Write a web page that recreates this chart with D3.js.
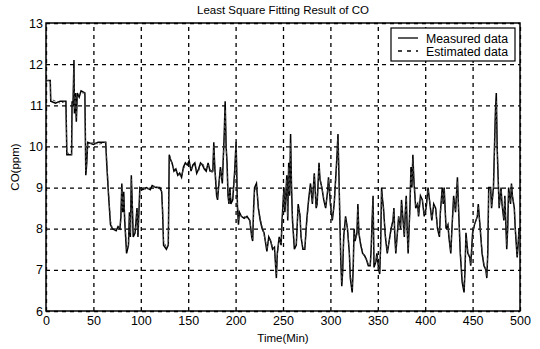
<!DOCTYPE html>
<html>
<head>
<meta charset="utf-8">
<script src="https://cdn.jsdelivr.net/npm/d3@7"></script>
<style>
  body { margin: 0; background: #fff; }
  text { font-family: "Liberation Sans", Arial, sans-serif; fill: #000; }
</style>
</head>
<body>
<div id="container"></div>
<script>
/** CONSTANTS AND GLOBALS */
const width = 540,
  height = 349,
  margin = { top: 23, bottom: 38, left: 46, right: 20 };

/** DATA */
const timeMin = [
  0, 4.5, 5, 10, 15, 21, 22, 27, 27.5, 28.5,
  29.5, 30, 31, 32, 33, 35, 37, 41, 42, 43,
  44, 50, 55, 63, 64, 66, 68, 70, 74, 76,
  78, 79, 80, 81, 82, 83, 85, 87, 88, 89,
  90, 91, 92, 94, 96, 97, 99, 102, 106, 110,
  112, 116, 120, 122, 123, 124, 127, 129, 130, 131,
  133, 135, 137, 139, 141, 143, 145, 147, 149, 151,
  153, 155, 157, 159, 161, 163, 165, 167, 169, 171,
  173, 175, 176, 177, 178, 180, 181, 182, 184, 186,
  188, 189, 190, 191, 192, 193, 194, 195, 197, 199,
  200.5, 201, 202, 203, 204, 206, 209, 212, 215, 217,
  218, 219, 220, 222, 223, 224, 226, 228, 230, 232,
  233, 235, 237, 239, 241, 243, 244, 246, 248, 249,
  251, 252, 254, 255, 256, 257, 258, 259, 260, 262,
  264, 266, 268, 269, 271, 273, 275, 277, 279, 281,
  283, 285, 286, 288, 289, 291, 293, 295, 297, 298,
  300, 302, 304, 306, 307, 308, 309, 310, 311, 312,
  313, 314, 316, 318, 320, 321, 323, 324, 325, 326,
  328, 329, 330, 332, 334, 336, 338, 340, 342, 343,
  344, 345, 346, 348, 349, 351, 352, 353, 354, 355,
  356, 358, 360, 362, 364, 366, 367, 368, 369, 371,
  372, 374, 375, 377, 378, 379, 380, 381, 382, 384,
  385, 386, 387, 388, 390, 392, 393, 395, 397, 399,
  401, 403, 404, 406, 407, 409, 411, 413, 415, 416,
  418, 419, 420, 421, 422, 424, 425, 427, 428, 430,
  432, 434, 435, 437, 439, 441, 442, 443, 445, 447,
  448, 450, 452, 455, 456, 458, 460, 462, 464, 465,
  466, 467, 469, 470, 472, 473, 474, 475, 476, 477,
  478, 480, 481, 483, 484, 486, 487, 488, 490, 491,
  492, 494, 495, 497, 498, 499, 500
];

const measuredCO = [
  11.6, 11.6, 11.1, 11.05, 11.1, 11.1, 9.8, 9.8, 11.1, 11.0,
  12.1, 10.8, 11.3, 10.6, 11.3, 11.2, 11.35, 11.3, 9.3, 9.6,
  10.1, 10.05, 10.1, 10.1, 9.6, 8.8, 8.1, 8.0, 7.95, 8.05,
  8.0, 8.3, 9.1, 8.4, 8.9, 8.2, 7.4, 7.6, 8.4, 7.8,
  9.3, 8.6, 7.8, 7.9, 8.5, 7.8, 9.0, 8.95, 9.0, 8.95,
  9.05, 9.0, 9.0, 8.9, 8.4, 7.6, 7.5, 7.6, 9.8, 9.7,
  9.6, 9.4, 9.45, 9.3, 9.35, 9.25, 9.5, 9.6, 9.55, 9.65,
  9.4, 9.55, 9.6, 9.35, 9.45, 9.6, 9.55, 9.45, 9.4, 9.6,
  9.4, 9.4, 9.4, 10.1, 9.5, 8.8, 8.7, 9.0, 9.5, 9.1,
  10.3, 11.1, 10.0, 9.6, 8.8, 8.6, 9.0, 8.6, 8.7, 9.4,
  10.1, 9.6, 8.5, 8.1, 8.4, 8.3, 8.25, 8.3, 8.2, 7.8,
  7.7, 8.5, 9.0, 9.1, 8.8, 8.5, 8.2, 8.0, 7.9, 7.6,
  7.45, 7.8, 7.7, 7.5, 7.55, 6.8, 7.4, 7.8, 7.6, 8.2,
  9.0, 8.4, 9.3, 8.2, 9.6, 8.8, 10.3, 9.0, 8.2, 7.5,
  7.6, 8.6, 8.3, 7.8, 7.5, 7.5, 8.2, 8.7, 9.1, 8.6,
  9.35, 8.5, 8.6, 9.6, 9.2, 9.0, 8.7, 8.5, 8.9, 9.25,
  8.6, 8.2, 8.6, 9.4, 9.8, 10.3, 9.3, 8.2, 7.2, 6.6,
  7.0, 7.8, 8.3, 8.0, 7.4, 6.8, 6.45, 7.0, 8.0, 7.7,
  7.9, 8.6, 7.9, 7.6, 7.4, 7.35, 7.25, 7.1, 7.1, 7.5,
  8.2, 8.8, 7.06, 7.2, 7.4, 7.0, 6.9, 7.6, 9.0, 8.7,
  8.5, 7.8, 7.4, 7.7, 8.0, 8.2, 8.5, 7.8, 7.4, 8.0,
  8.3, 8.0, 8.7, 8.1, 7.8, 8.4, 8.8, 8.0, 7.4, 8.6,
  9.5, 9.0, 9.8, 9.2, 8.5, 8.6, 8.3, 8.8, 8.7, 8.3,
  8.5, 9.0, 8.8, 8.4, 8.2, 8.6, 8.5, 8.0, 7.8, 8.4,
  9.0, 8.6, 9.0, 8.5, 8.0, 8.1, 7.8, 7.4, 7.9, 8.8,
  8.4, 9.25, 8.6, 7.4, 6.7, 6.45, 7.0, 7.9, 7.4, 7.3,
  7.1, 7.9, 8.1, 8.3, 8.6, 8.0, 7.4, 7.1, 7.0, 6.8,
  7.4, 9.0, 9.0, 8.5, 9.0, 9.9, 10.8, 11.3, 9.9, 9.2,
  8.5, 9.0, 8.6, 8.2, 8.8, 7.5, 8.0, 9.0, 8.6, 9.1,
  8.8, 8.5, 8.0, 7.3, 7.6, 8.0, 8.0
];

const estimatedCO = [
  11.6, 11.6, 11.15, 11.1, 11.05, 11.1, 9.85, 9.8, 11.0, 11.05,
  11.9, 10.9, 11.2, 10.7, 11.25, 11.25, 11.3, 11.3, 9.4, 9.7,
  10.05, 10.1, 10.05, 10.1, 9.7, 8.9, 8.2, 8.0, 8.0, 8.0,
  8.05, 8.2, 9.0, 8.5, 8.8, 8.3, 7.5, 7.6, 8.3, 7.9,
  9.2, 8.7, 7.9, 7.9, 8.4, 7.9, 8.95, 9.0, 8.95, 9.0,
  9.0, 9.05, 8.95, 8.9, 8.5, 7.7, 7.55, 7.6, 9.7, 9.75,
  9.55, 9.45, 9.4, 9.35, 9.3, 9.3, 9.45, 9.55, 9.6, 9.6,
  9.45, 9.5, 9.55, 9.4, 9.4, 9.55, 9.6, 9.5, 9.45, 9.55,
  9.45, 9.35, 9.45, 10.0, 9.6, 8.9, 8.75, 8.95, 9.4, 9.2,
  10.2, 10.9, 10.1, 9.5, 8.9, 8.65, 8.9, 8.7, 8.75, 9.3,
  10.0, 9.7, 8.6, 8.2, 8.35, 8.3, 8.3, 8.25, 8.2, 7.85,
  7.75, 8.4, 8.9, 9.05, 8.85, 8.5, 8.25, 8.05, 7.85, 7.65,
  7.5, 7.75, 7.7, 7.55, 7.5, 6.9, 7.35, 7.75, 7.65, 8.1,
  8.9, 8.5, 9.2, 8.3, 9.5, 8.9, 10.1, 9.1, 8.3, 7.6,
  7.6, 8.5, 8.35, 7.85, 7.55, 7.5, 8.1, 8.65, 9.0, 8.65,
  9.3, 8.55, 8.6, 9.5, 9.25, 9.0, 8.75, 8.55, 8.85, 9.2,
  8.65, 8.25, 8.55, 9.3, 9.7, 10.2, 9.4, 8.3, 7.3, 6.7,
  7.0, 7.7, 8.25, 8.05, 7.45, 6.9, 6.55, 7.0, 7.9, 7.75,
  7.85, 8.5, 7.95, 7.65, 7.45, 7.3, 7.25, 7.15, 7.1, 7.45,
  8.1, 8.7, 7.15, 7.2, 7.35, 7.05, 6.95, 7.5, 8.9, 8.75,
  8.5, 7.85, 7.45, 7.7, 7.95, 8.2, 8.45, 7.85, 7.45, 7.95,
  8.3, 8.05, 8.6, 8.15, 7.85, 8.35, 8.75, 8.05, 7.5, 8.5,
  9.4, 9.05, 9.7, 9.25, 8.55, 8.6, 8.35, 8.75, 8.7, 8.35,
  8.5, 8.95, 8.8, 8.45, 8.25, 8.55, 8.5, 8.05, 7.85, 8.35,
  8.9, 8.65, 8.95, 8.5, 8.05, 8.1, 7.85, 7.45, 7.9, 8.7,
  8.45, 9.15, 8.65, 7.5, 6.8, 6.55, 7.0, 7.8, 7.45, 7.3,
  7.15, 7.85, 8.1, 8.3, 8.55, 8.05, 7.45, 7.15, 7.0, 6.85,
  7.4, 8.9, 9.0, 8.55, 8.95, 9.8, 10.6, 11.1, 10.0, 9.25,
  8.55, 8.95, 8.65, 8.25, 8.75, 7.6, 8.0, 8.9, 8.65, 9.05,
  8.8, 8.5, 8.05, 7.35, 7.6, 7.95, 8.0
];

const xTicks = [0, 50, 100, 150, 200, 250, 300, 350, 400, 450, 500];
const yTicks = [6, 7, 8, 9, 10, 11, 12, 13];
const seriesNames = ["Measured data", "Estimated data"];

/** DRAW */
const svg = d3.select("#container")
  .append("svg")
  .attr("width", width)
  .attr("height", height);

const xScale = d3.scaleLinear()
  .domain([0, 500])
  .range([margin.left, width - margin.right]);

const yScale = d3.scaleLinear()
  .domain([6, 13])
  .range([height - margin.bottom, margin.top]);

const plotW = width - margin.left - margin.right,
  plotH = height - margin.top - margin.bottom;

// dashed grid
const xGrid = svg.append("g")
  .attr("transform", `translate(0,${height - margin.bottom})`)
  .call(d3.axisBottom(xScale).tickValues(xTicks).tickSize(-plotH).tickFormat(""));
const yGrid = svg.append("g")
  .attr("transform", `translate(${margin.left},0)`)
  .call(d3.axisLeft(yScale).tickValues(yTicks).tickSize(-plotW).tickFormat(""));
[xGrid, yGrid].forEach(g => {
  g.select(".domain").remove();
  g.selectAll("line")
    .attr("stroke", "#000")
    .attr("stroke-width", 1.3)
    .attr("stroke-dasharray", "4,4");
});

// lines
const rows = timeMin.map((t, i) => ({ t, m: measuredCO[i], e: estimatedCO[i] }));

const lineM = d3.line().x(d => xScale(d.t)).y(d => yScale(d.m));
const lineE = d3.line().x(d => xScale(d.t)).y(d => yScale(d.e));

svg.append("path")
  .datum(rows)
  .attr("fill", "none")
  .attr("stroke", "#000")
  .attr("stroke-width", 1.5)
  .attr("d", lineM);

svg.append("path")
  .datum(rows)
  .attr("fill", "none")
  .attr("stroke", "#444")
  .attr("stroke-width", 1)
  .attr("stroke-dasharray", "3,2")
  .attr("d", lineE);

// box
svg.append("rect")
  .attr("x", margin.left)
  .attr("y", margin.top)
  .attr("width", plotW)
  .attr("height", plotH)
  .attr("fill", "none")
  .attr("stroke", "#000")
  .attr("stroke-width", 1.5);

// tick labels
const xAxis = svg.append("g")
  .attr("transform", `translate(0,${height - margin.bottom})`)
  .call(d3.axisBottom(xScale).tickValues(xTicks).tickSize(0).tickPadding(5).tickFormat(d3.format("d")));
const yAxis = svg.append("g")
  .attr("transform", `translate(${margin.left},0)`)
  .call(d3.axisLeft(yScale).tickValues(yTicks).tickSize(0).tickPadding(3).tickFormat(d3.format("d")));
[xAxis, yAxis].forEach(g => {
  g.select(".domain").remove();
  g.selectAll("text")
    .attr("font-size", 12.5)
    .attr("fill", "#000")
    .style("font-family", "'Liberation Sans', Arial, sans-serif");
});

// title + axis labels
svg.append("text")
  .attr("x", (margin.left + width - margin.right) / 2)
  .attr("y", 14)
  .attr("text-anchor", "middle")
  .attr("font-size", 11.5)
  .text("Least Square Fitting Result of CO");

svg.append("text")
  .attr("x", (margin.left + width - margin.right) / 2)
  .attr("y", 342)
  .attr("text-anchor", "middle")
  .attr("font-size", 11.5)
  .text("Time(Min)");

svg.append("text")
  .attr("transform", `translate(19,${(margin.top + height - margin.bottom) / 2}) rotate(-90)`)
  .attr("text-anchor", "middle")
  .attr("font-size", 11.5)
  .text("CO(ppm)");

// legend
const legend = svg.append("g").attr("transform", "translate(391,28)");
legend.append("rect")
  .attr("width", 124)
  .attr("height", 33)
  .attr("fill", "#fff")
  .attr("stroke", "#000")
  .attr("stroke-width", 1.2);

seriesNames.forEach((name, i) => {
  legend.append("line")
    .attr("x1", 7).attr("x2", 27)
    .attr("y1", 10 + i * 13).attr("y2", 10 + i * 13)
    .attr("stroke", "#000")
    .attr("stroke-width", 1.3)
    .attr("stroke-dasharray", i === 0 ? null : "4,5");
  legend.append("text")
    .attr("x", 35)
    .attr("y", 14.5 + i * 13)
    .attr("font-size", 12.3)
    .text(name);
});
</script>
</body>
</html>
